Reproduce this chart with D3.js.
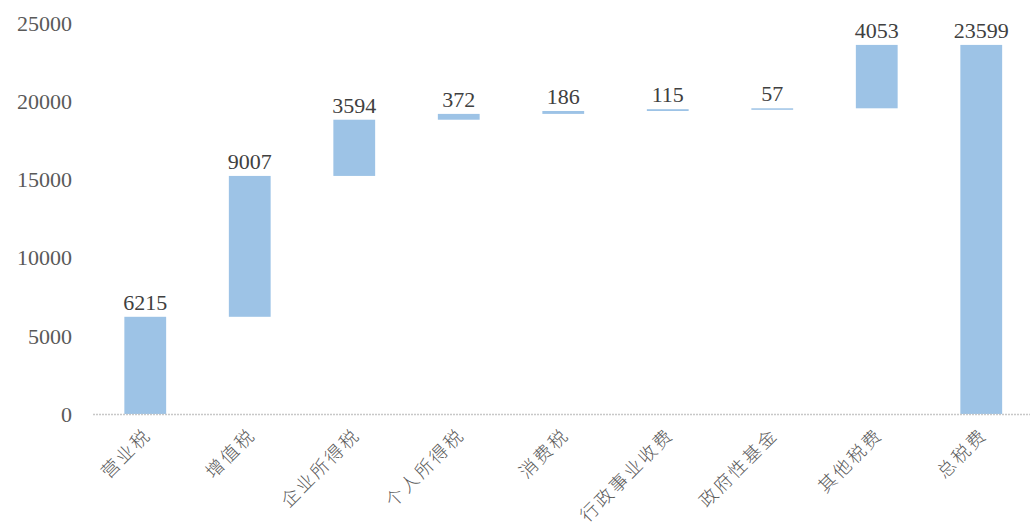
<!DOCTYPE html>
<html>
<head>
<meta charset="utf-8">
<script src="https://cdn.jsdelivr.net/npm/d3@7"></script>
<style>
  body { margin: 0; background: #fff; }
  svg text { font-family: "Liberation Serif", "Times New Roman", serif; }
  .cat text { font-family: "Noto Sans CJK SC", sans-serif; font-weight: 300; }
</style>
</head>
<body>
<svg width="1030" height="531"></svg>
<script>
const svg = d3.select("svg");

// Data
const categories = ["营业税", "增值税", "企业所得税", "个人所得税", "消费税", "行政事业收费", "政府性基金", "其他税费", "总税费"];
const values = [6215, 9007, 3594, 372, 186, 115, 57, 4053, 23599];
const yTicks = [0, 5000, 10000, 15000, 20000, 25000];

// Build waterfall bases: last one is the total
let running = 0;
const bars = categories.map((c, i) => {
    const isTotal = i === categories.length - 1;
    const start = isTotal ? 0 : running;
    const end = isTotal ? values[i] : running + values[i];
    if (!isTotal) running = end;
    return { cat: c, value: values[i], start, end };
});

// Scales
const x = d3.scaleBand().domain(categories).range([93, 1033.5]).paddingInner(0.6).paddingOuter(0.3);
const y = d3.scaleLinear().domain([0, 25000]).range([414, 23]);

// Y axis labels (no line, no ticks)
svg.append("g")
    .selectAll("text")
    .data(yTicks)
    .join("text")
    .attr("x", 72)
    .attr("y", d => y(d))
    .attr("dy", "0.35em")
    .attr("text-anchor", "end")
    .attr("font-size", 22)
    .attr("fill", "#595959")
    .text(d => d);

// Bars
svg.append("g")
    .selectAll("rect")
    .data(bars)
    .join("rect")
    .attr("x", d => x(d.cat))
    .attr("width", x.bandwidth())
    .attr("y", d => y(d.end))
    .attr("height", d => Math.max(1.5, y(d.start) - y(d.end)))
    .attr("fill", "#9dc3e6");

// X axis line
svg.append("line")
    .attr("x1", 93).attr("x2", 1030)
    .attr("y1", y(0) + 0.5).attr("y2", y(0) + 0.5)
    .attr("stroke", "#c8c8c8")
    .attr("stroke-width", 1.5)
    .attr("stroke-dasharray", "2,1");

// Value labels
svg.append("g")
    .selectAll("text")
    .data(bars)
    .join("text")
    .attr("x", d => x(d.cat) + x.bandwidth() / 2)
    .attr("y", d => y(d.end) - 7)
    .attr("text-anchor", "middle")
    .attr("font-size", 22)
    .attr("fill", "#404040")
    .text(d => d.value);

// Category labels, rotated
svg.append("g")
    .attr("class", "cat")
    .selectAll("text")
    .data(categories)
    .join("text")
    .attr("transform", d => `translate(${x(d) + x.bandwidth() / 2 + 7},${y(0) + 22}) rotate(-45)`)
    .attr("text-anchor", "end")
    .attr("font-size", 18)
    .attr("letter-spacing", 2.5)
    .attr("fill", "#595959")
    .text(d => d);
</script>
</body>
</html>
